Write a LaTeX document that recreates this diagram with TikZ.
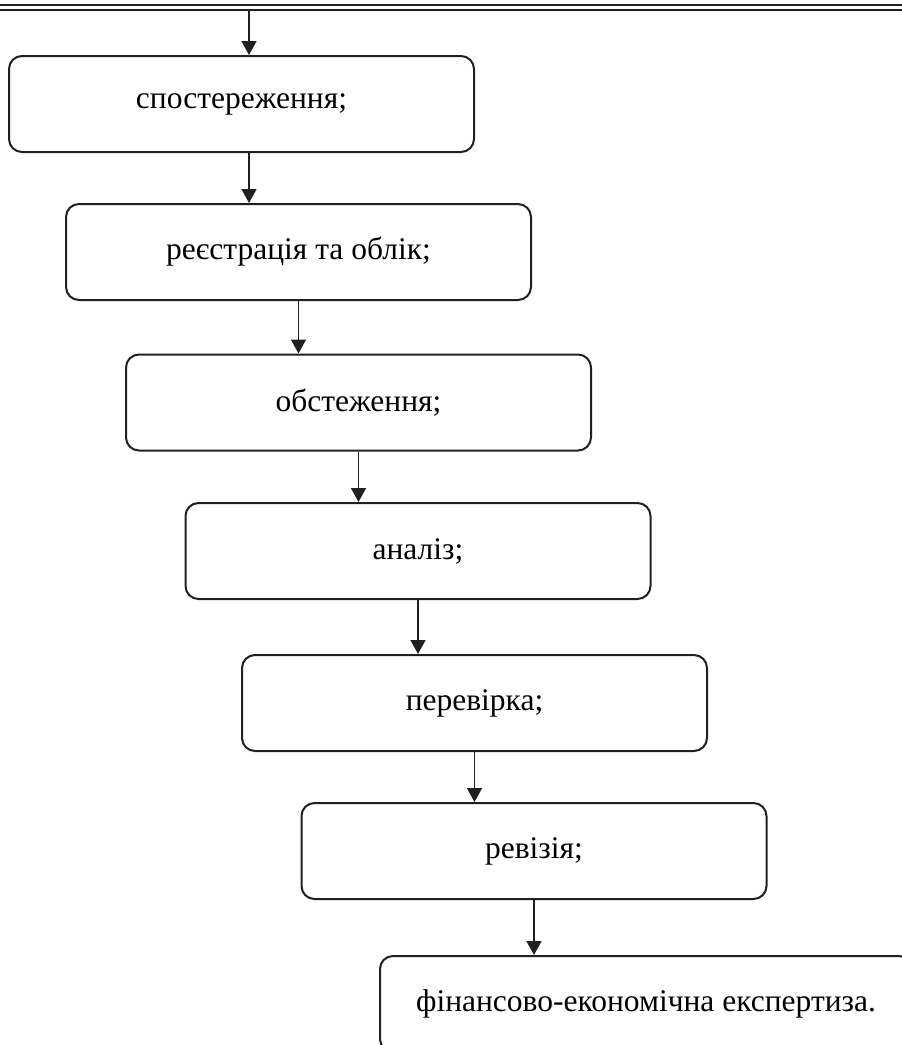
\documentclass[tikz,border=0pt]{standalone}
\usepackage{fontspec}
\setmainfont{Liberation Serif}
\usetikzlibrary{arrows.meta,calc}
\definecolor{ink}{HTML}{231F20}
\tikzset{
  stage/.style={draw=ink, line width=2pt, rounded corners=13pt, minimum width=#1, minimum height=96pt, inner sep=0pt, align=center, font=\fontsize{31.5}{36}\selectfont, text=black},
  stage/.default=465pt,
  arr/.style={-{Triangle[length=14pt,width=15pt]}, line width=1.5pt, ink},
  rule/.style={ink, line width=#1},
}

\begin{document}
\begin{tikzpicture}[x=1pt,y=-1pt]
\useasboundingbox (0,0) rectangle (902,1045);
\clip (0,0) rectangle (902,1045);
% ================= top rule =================
\draw[rule=2.8pt] (0,5) -- (902,5);
\draw[rule=2pt] (0,10) -- (902,10);
\coordinate (top) at (249,10);
% ================= stages =================
\node[stage] (obs) at (241.5,104) {спостереження;};
\node[stage] (reg) at (298.5,252) {реєстрація та облік;};
\node[stage] (exam) at (358.5,402.5) {обстеження;};
\node[stage] (anl) at (418,551) {аналіз;};
\node[stage] (chk) at (474.5,703) {перевірка;};
\node[stage] (rev) at (534,851) {ревізія;};
\node[stage=532pt] (exp) at (646,1004) {фінансово-економічна експертиза.};
% ================= arrows =================
\draw[arr] (top) -- (obs.north -| top);
\draw[arr] (obs.south -| top) -- (reg.north -| top);
\draw[arr] (reg.south) -- (reg.south |- exam.north);
\draw[arr] (exam.south) -- (exam.south |- anl.north);
\draw[arr] (anl.south) -- (anl.south |- chk.north);
\draw[arr] (chk.south) -- (chk.south |- rev.north);
\draw[arr] (rev.south) -- (rev.south |- exp.north);
\end{tikzpicture}
\end{document}
